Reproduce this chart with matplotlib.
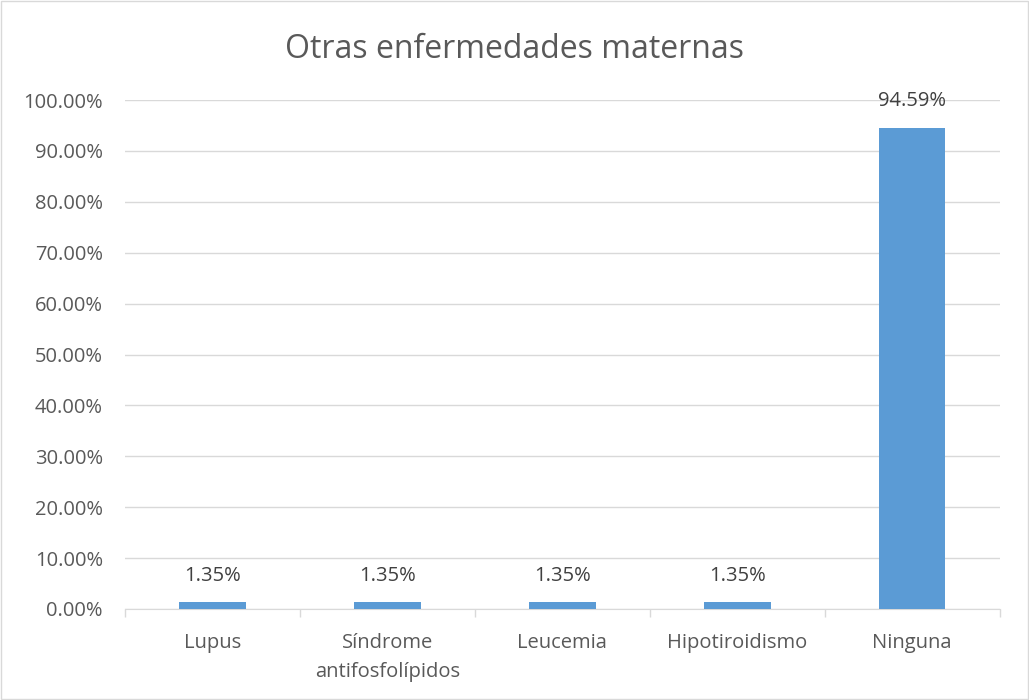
import matplotlib.pyplot as plt
import numpy as np

plt.rcParams['font.family'] = ['Open Sans', 'DejaVu Sans']

categories = ["Lupus", "Síndrome\nantifosfolípidos", "Leucemia", "Hipotiroidismo", "Ninguna"]
values = [1.35, 1.35, 1.35, 1.35, 94.59]
labels = ["1.35%", "1.35%", "1.35%", "1.35%", "94.59%"]
yticks = np.arange(0, 101, 10)

fig = plt.figure(figsize=(10.29, 7), dpi=100)
ax = fig.add_axes([0.1215, 0.13, 0.850, 0.727])

x = np.arange(len(categories))
ax.bar(x, values, width=0.38, color='#5B9BD5', zorder=3)
for xi, v, lab in zip(x, values, labels):
    ax.text(xi, v + 3.2, lab, ha='center', va='bottom', fontsize=14.5, color='#404040')

ax.set_xlim(-0.5, len(categories) - 0.5)
ax.set_ylim(0, 100)
ax.set_yticks(yticks)
ax.set_yticklabels(["%.2f%%" % t for t in yticks], fontsize=14.5, color='#595959')
ax.yaxis.grid(True, color='#D9D9D9', linewidth=1, zorder=0)
ax.tick_params(axis='y', length=0, pad=16)

ax.set_xticks(x)
ax.set_xticklabels(categories, fontsize=14.5, color='#595959', linespacing=1.65)
ax.set_xticks(np.arange(-0.5, len(categories)), minor=True)
ax.tick_params(axis='x', which='major', length=0, pad=17)
ax.tick_params(axis='x', which='minor', length=6, color='#D9D9D9', width=1)

for s in ['top', 'right', 'left']:
    ax.spines[s].set_visible(False)
ax.spines['bottom'].set_color('#D9D9D9')

fig.text(0.5, 0.929, "Otras enfermedades maternas", ha='center', va='center',
         fontsize=23, color='#595959')

border = plt.Rectangle((0.001, 0.001), 0.998, 0.998, transform=fig.transFigure,
                       fill=False, edgecolor='#D9D9D9', linewidth=1)
fig.patches.append(border)

fig.savefig("out.png", dpi=100)
